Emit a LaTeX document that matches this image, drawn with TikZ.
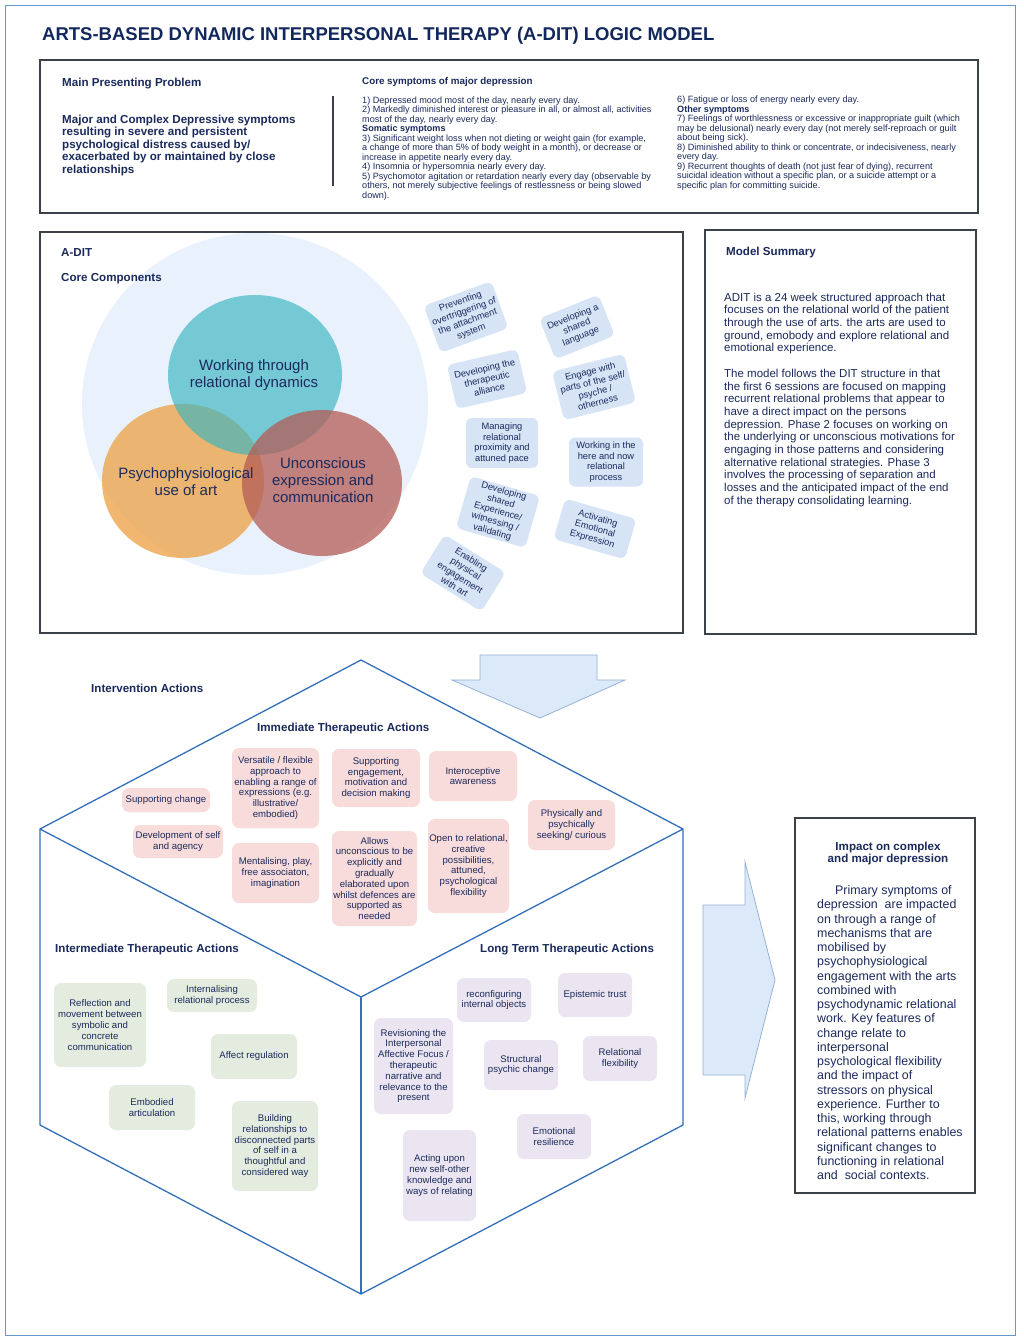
\documentclass[tikz,border=0pt]{standalone}
\usepackage{fontspec}
\setmainfont{Liberation Sans}
\usetikzlibrary{positioning}

\definecolor{navy}{RGB}{27,42,92}
\definecolor{titlenavy}{RGB}{18,40,92}
\definecolor{framegrey}{RGB}{60,64,72}
\definecolor{hexblue}{RGB}{52,112,186}
\definecolor{outerblue}{RGB}{100,150,210}
\definecolor{skyfill}{RGB}{232,241,252}
\definecolor{tealc}{RGB}{56,180,193}
\definecolor{orangec}{RGB}{237,160,66}
\definecolor{redc}{RGB}{179,92,86}
\definecolor{bubblec}{RGB}{214,228,246}
\definecolor{pinkc}{RGB}{248,219,219}
\definecolor{greenc}{RGB}{228,236,224}
\definecolor{lilacc}{RGB}{234,229,240}
\definecolor{arrowfill}{RGB}{219,233,249}
\definecolor{arrowline}{RGB}{150,178,214}

\tikzset{
  head/.style={font=\bfseries\fontsize{11.6}{12.5}\selectfont, text=navy, anchor=base west, inner sep=0pt},
  smallhead/.style={font=\bfseries\fontsize{9.8}{10.5}\selectfont, text=navy, anchor=base west, inner sep=0pt},
  boldpara/.style={font=\bfseries\fontsize{11.6}{12.5}\selectfont, text=navy, anchor=north west, inner sep=0pt, align=left},
  symptoms/.style={font=\fontsize{9.1}{9.5}\selectfont, text=navy, anchor=north west, inner sep=0pt, align=left},
  summary/.style={font=\fontsize{11.5}{12.7}\selectfont, text=navy, anchor=north west, inner sep=0pt, align=left},
  panel/.style={draw=framegrey, line width=1.4pt},
  venn/.style={font=\fontsize{15}{17}\selectfont, text=navy, align=center, inner sep=0pt},
  bubble/.style={fill=bubblec, rounded corners=6pt, align=center, text=navy, inner sep=1pt, font=\fontsize{9.3}{10.6}\selectfont},
  card/.style={rounded corners=7pt, align=center, text=navy, inner sep=1pt, font=\fontsize{9.6}{10.8}\selectfont},
  pinkcard/.style={card, fill=pinkc},
  greencard/.style={card, fill=greenc},
  lilaccard/.style={card, fill=lilacc},
  hexline/.style={draw=hexblue, line width=1.3pt, line join=miter},
  blockarrow/.style={fill=arrowfill, draw=arrowline, line width=0.8pt},
}

\begin{document}
\begin{tikzpicture}[x=1pt, y=-1pt]

% Canvas and outer frame
\useasboundingbox (0,0) rectangle (1023,1339);
\fill[white] (0,0) rectangle (1023,1339);
\draw[outerblue, line width=1pt] (5,5) rectangle (1015,1335);

% Title
\node[font=\bfseries\fontsize{18.5}{20}\selectfont, text=titlenavy, anchor=base west, inner sep=0pt] (title) at (42,40)
  {ARTS-BASED DYNAMIC INTERPERSONAL THERAPY (A-DIT) LOGIC MODEL};

% Top panel: presenting problem and symptoms
\draw[panel] (40,60) rectangle (978,213);
\node[head] (mpp) at (62,86) {Main Presenting Problem};
\node[boldpara] (problem) at (62,114.5) {Major and Complex Depressive symptoms\\resulting in severe and persistent\\psychological distress caused by/\\exacerbated by or maintained by close\\relationships};
\draw[framegrey, line width=1.2pt] (333,96) -- (333,186);
\node[smallhead] (core) at (362,84) {Core symptoms of major depression};
\node[symptoms] (symleft) at (362,96.5) {1) Depressed mood most of the day, nearly every day.\\
2) Markedly diminished interest or pleasure in all, or almost all, activities\\
most of the day, nearly every day.\\
\textbf{Somatic symptoms}\\
3) Significant weight loss when not dieting or weight gain (for example,\\
a change of more than 5\% of body weight in a month), or decrease or\\
increase in appetite nearly every day.\\
4) Insomnia or hypersomnia nearly every day.\\
5) Psychomotor agitation or retardation nearly every day (observable by\\
others, not merely subjective feelings of restlessness or being slowed\\
down).};
\node[symptoms] (symright) at (677,96) {6) Fatigue or loss of energy nearly every day.\\
\textbf{Other symptoms}\\
7) Feelings of worthlessness or excessive or inappropriate guilt (which\\
may be delusional) nearly every day (not merely self-reproach or guilt\\
about being sick).\\
8) Diminished ability to think or concentrate, or indecisiveness, nearly\\
every day.\\
9) Recurrent thoughts of death (not just fear of dying), recurrent\\
suicidal ideation without a specific plan, or a suicide attempt or a\\
specific plan for committing suicide.};

% A-DIT panel
\draw[panel] (40,232) rectangle (683,633);

% Venn of core components
\fill[skyfill] (255,404) ellipse [x radius=173pt, y radius=171pt];
\fill[orangec, fill opacity=0.75] (183,481) ellipse [x radius=81pt, y radius=77pt];
\fill[tealc, fill opacity=0.65] (255,375) ellipse [x radius=87pt, y radius=80pt];
\fill[redc, fill opacity=0.75] (322,483) ellipse [x radius=80pt, y radius=73pt];
\node[venn] (work) at (254,375) {Working through\\relational dynamics};
\node[venn] (psycho) at (186,482) {Psychophysiological\\use of art};
\node[venn] (uncon) at (323,480) {Unconscious\\expression and\\communication};

% Panel headings (over the circle)
\node[head] (adit) at (61,256) {A-DIT};
\node[head] (cc) at (61,281) {Core Components};

% Bubbles of relational skills
\node[bubble, minimum width=72pt, minimum height=50pt, rotate=20] (b1) at (466,317) {Preventing\\overtriggering of\\the attachment\\system};
\node[bubble, minimum width=64pt, minimum height=44pt, rotate=22] (b2) at (577,327) {Developing a\\shared\\language};
\node[bubble, minimum width=72pt, minimum height=45pt, rotate=13] (b3) at (487,379) {Developing the\\therapeutic\\alliance};
\node[bubble, minimum width=74pt, minimum height=50pt, rotate=14] (b4) at (594,387) {Engage with\\parts of the self/\\psyche /\\otherness};
\node[bubble, minimum width=72pt, minimum height=50pt] (b5) at (502,443) {Managing\\relational\\proximity and\\attuned pace};
\node[bubble, minimum width=74pt, minimum height=49pt] (b6) at (606,462) {Working in the\\here and now\\relational\\process};
\node[bubble, minimum width=72pt, minimum height=54pt, rotate=-16] (b7) at (498,512) {Developing\\shared\\Experience/\\witnessing /\\validating};
\node[bubble, minimum width=74pt, minimum height=42pt, rotate=-16] (b8) at (595,529) {Activating\\Emotional\\Expression};
\node[bubble, minimum width=72pt, minimum height=46pt, rotate=-32] (b9) at (463,573) {Enabling\\physical\\engagement\\with art};

% Model summary panel
\draw[panel] (705,230) rectangle (976,634);
\node[head] (ms) at (726,255) {Model Summary};
\node[summary] (mstext) at (724,292.6) {ADIT is a 24 week structured approach that\\
focuses on the relational world of the patient\\
through the use of arts. the arts are used to\\
ground, emobody and explore relational and\\
emotional experience.\\[12.7pt]
The model follows the DIT structure in that\\
the first 6 sessions are focused on mapping\\
recurrent relational problems that appear to\\
have a direct impact on the persons\\
depression. Phase 2 focuses on working on\\
the underlying or unconscious motivations for\\
engaging in those patterns and considering\\
alternative relational strategies. Phase 3\\
involves the processing of separation and\\
losses and the anticipated impact of the end\\
of the therapy consolidating learning.};

% Down arrow
\draw[blockarrow] (480,655) -- (597,655) -- (597,680) -- (625,680) -- (540,718) -- (452,680) -- (480,680) -- cycle;

% Intervention cube
\node[head] (ia) at (91,692) {Intervention Actions};
\coordinate (top) at (361,660);
\coordinate (ur) at (683,829);
\coordinate (lr) at (683,1125);
\coordinate (bot) at (361,1294);
\coordinate (ll) at (40,1125);
\coordinate (ul) at (40,829);
\coordinate (mid) at (361,997);
\draw[hexline] (top) -- (ur) -- (lr) -- (bot) -- (ll) -- (ul) -- cycle;
\draw[hexline] (ul) -- (mid) -- (ur);
\draw[hexline] (mid) -- (bot);

% Immediate therapeutic actions
\node[head] (ita) at (257,731) {Immediate Therapeutic Actions};
\node[pinkcard, minimum width=88pt, minimum height=24pt] (i1) at (166,800) {Supporting change};
\node[pinkcard, minimum width=90pt, minimum height=33pt] (i2) at (178,841.5) {Development of self\\and agency};
\node[pinkcard, minimum width=87pt, minimum height=80pt] (i3) at (275.5,788) {Versatile / flexible\\approach to\\enabling a range of\\expressions (e.g.\\illustrative/\\embodied)};
\node[pinkcard, minimum width=87pt, minimum height=60pt] (i4) at (275.5,873) {Mentalising, play,\\free associaton,\\imagination};
\node[pinkcard, minimum width=88pt, minimum height=58pt] (i5) at (376,778) {Supporting\\engagement,\\motivation and\\decision making};
\node[pinkcard, minimum width=85pt, minimum height=95pt] (i6) at (374.5,878.5) {Allows\\unconscious to be\\explicitly and\\gradually\\elaborated upon\\whilst defences are\\supported as\\needed};
\node[pinkcard, minimum width=88pt, minimum height=50pt] (i7) at (473,776) {Interoceptive\\awareness};
\node[pinkcard, minimum width=81pt, minimum height=94pt] (i8) at (468.5,866) {Open to relational,\\creative\\possibilities,\\attuned,\\psychological\\flexibility};
\node[pinkcard, minimum width=87pt, minimum height=50pt] (i9) at (571.5,825) {Physically and\\psychically\\seeking/ curious};

% Intermediate therapeutic actions
\node[head] (mta) at (55,952) {Intermediate Therapeutic Actions};
\node[greencard, minimum width=92pt, minimum height=84pt] (m1) at (100,1025) {Reflection and\\movement between\\symbolic and\\concrete\\communication};
\node[greencard, minimum width=90pt, minimum height=33pt] (m2) at (212,995.5) {Internalising\\relational process};
\node[greencard, minimum width=86pt, minimum height=45pt] (m3) at (254,1056.5) {Affect regulation};
\node[greencard, minimum width=86pt, minimum height=45pt] (m4) at (152,1107.5) {Embodied\\articulation};
\node[greencard, minimum width=86pt, minimum height=90pt] (m5) at (275,1146) {Building\\relationships to\\disconnected parts\\of self in a\\thoughtful and\\considered way};

% Long term therapeutic actions
\node[head] (lta) at (480,952) {Long Term Therapeutic Actions};
\node[lilaccard, minimum width=74pt, minimum height=44pt] (l1) at (494,1000) {reconfiguring\\internal objects};
\node[lilaccard, minimum width=74pt, minimum height=44pt] (l2) at (595,995) {Epistemic trust};
\node[lilaccard, minimum width=79pt, minimum height=96pt] (l3) at (413.5,1066) {Revisioning the\\Interpersonal\\Affective Focus /\\therapeutic\\narrative and\\relevance to the\\present};
\node[lilaccard, minimum width=74pt, minimum height=50pt] (l4) at (521,1065) {Structural\\psychic change};
\node[lilaccard, minimum width=74pt, minimum height=45pt] (l5) at (620,1058.5) {Relational\\flexibility};
\node[lilaccard, minimum width=74pt, minimum height=45pt] (l6) at (554,1136.5) {Emotional\\resilience};
\node[lilaccard, minimum width=73pt, minimum height=91pt] (l7) at (439.5,1175.5) {Acting upon\\new self-other\\knowledge and\\ways of relating};

% Right arrow
\draw[blockarrow] (703,905) -- (745,905) -- (745,862) -- (775,980) -- (745,1098) -- (745,1075) -- (703,1075) -- cycle;

% Impact panel
\draw[panel] (795,818) rectangle (975,1193);
\node[font=\bfseries\fontsize{11.6}{12}\selectfont, text=navy, align=center, anchor=north, inner sep=0pt] (imp) at (888,842) {Impact on complex\\and major depression};
\node[font=\fontsize{12.4}{14.25}\selectfont, text=navy, align=left, anchor=north west, inner sep=0pt] (imptext) at (817,885.5) {\hspace*{18pt}Primary symptoms of\\
depression \ are impacted\\
on through a range of\\
mechanisms that are\\
mobilised by\\
psychophysiological\\
engagement with the arts\\
combined with\\
psychodynamic relational\\
work. Key features of\\
change relate to\\
interpersonal\\
psychological flexibility\\
and the impact of\\
stressors on physical\\
experience. Further to\\
this, working through\\
relational patterns enables\\
significant changes to\\
functioning in relational\\
and \ social contexts.};

\end{tikzpicture}
\end{document}
